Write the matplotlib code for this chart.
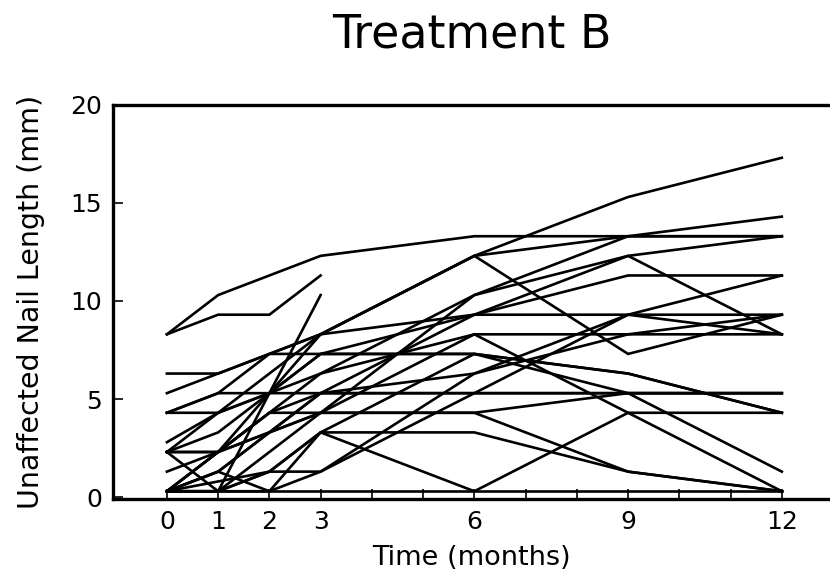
import numpy as np
import matplotlib
matplotlib.use('Agg')
import matplotlib.pyplot as plt

months = [0, 1, 2, 3, 6, 9, 12]
nan = np.nan

# one row per subject, nail length (mm) at each visit
s01 = [8.3, 10.3, 11.3, 12.3, 13.3, 13.3, 13.3]
s02 = [8.3, 9.3, 9.3, 11.3, nan, nan, nan]
s03 = [0.3, 0.3, 5.3, 10.3, nan, nan, nan]
s04 = [2.3, 4.3, 6.3, 8.3, 12.3, 15.3, 17.3]
s05 = [4.3, 5.3, 7.3, 8.3, 12.3, 13.3, 14.3]
s06 = [6.3, 6.3, 7.3, 8.3, 12.3, 7.3, 9.3]
s07 = [5.3, 6.3, 7.3, 7.3, 7.3, 6.3, 4.3]
s08 = [2.3, 3.3, 5.3, 8.3, 9.3, 9.3, 9.3]
s09 = [0.3, 2.3, 4.3, 6.3, 10.3, 13.3, 13.3]
s10 = [2.3, 2.3, 3.3, 4.3, 10.3, 12.3, 8.3]
s11 = [4.3, 4.3, 5.3, 7.3, 9.3, 11.3, 11.3]
s12 = [0.3, 1.3, 3.3, 5.3, 9.3, 12.3, 13.3]
s13 = [0.3, 0.8, 1.3, 1.3, 6.3, 8.3, 9.3]
s14 = [0.3, 2.3, 4.3, 5.3, 6.3, 9.3, 11.3]
s15 = [4.3, 5.3, 5.3, 5.3, 5.3, 5.3, 5.3]
s16 = [2.3, 2.3, 4.3, 4.3, 4.3, 5.3, 5.3]
s17 = [1.3, 2.3, 3.3, 5.3, 5.3, 9.3, 8.3]
s18 = [0.3, 0.3, 2.3, 4.3, 8.3, 4.3, 0.3]
s19 = [2.3, 0.3, 1.3, 3.3, 7.3, 5.3, 1.3]
s20 = [0.3, 0.3, 1.3, 3.3, 3.3, 1.3, 0.3]
s21 = [0.3, 1.3, 0.3, 3.3, 0.3, 4.3, 4.3]
s22 = [0.3, 1.3, 3.3, 4.3, 4.3, 1.3, 0.3]
s23 = [2.8, 4.3, 5.3, 6.3, 8.3, 8.3, 8.3]
s24 = [0.3, 0.3, 0.3, 0.3, 0.3, 0.3, 0.3]
s25 = [0.3, 2.3, 5.3, 7.3, 7.3, 6.3, 4.3]
s26 = [0.3, 0.3, 0.3, 1.3, 5.3, 5.3, 5.3]

subjects = [s01, s02, s03, s04, s05, s06, s07, s08, s09, s10, s11, s12, s13,
            s14, s15, s16, s17, s18, s19, s20, s21, s22, s23, s24, s25, s26]

xtick_labels = ['0', '1', '2', '3', '6', '9', '12']

fig = plt.figure(figsize=(8.3, 5.79), dpi=100)
ax = fig.add_axes([0.136, 0.138, 0.864, 0.681])

for s in subjects:
    ax.plot(months, s, color='black', lw=1.9, solid_joinstyle='miter')

ax.set_xlim(-1.054, 12.94)
ax.set_ylim(-0.1, 20)

ax.set_xticks(months)
ax.set_xticklabels(xtick_labels)
ax.set_xticks(range(13), minor=True)
ax.set_yticks([0, 5, 10, 15, 20])
ax.tick_params(axis='both', which='both', direction='in', length=7, width=1.2,
               labelsize=18, pad=8)

for side in ['left', 'top', 'bottom']:
    ax.spines[side].set_linewidth(2.4)
ax.spines['right'].set_visible(False)

ax.set_xlabel('Time (months)', fontsize=19.5, labelpad=8)
ax.set_ylabel('Unaffected Nail Length (mm)', fontsize=20.5, labelpad=18)
fig.text(0.569, 0.94, 'Treatment B', ha='center', va='center', fontsize=33)

fig.savefig('out.png', dpi=100)
